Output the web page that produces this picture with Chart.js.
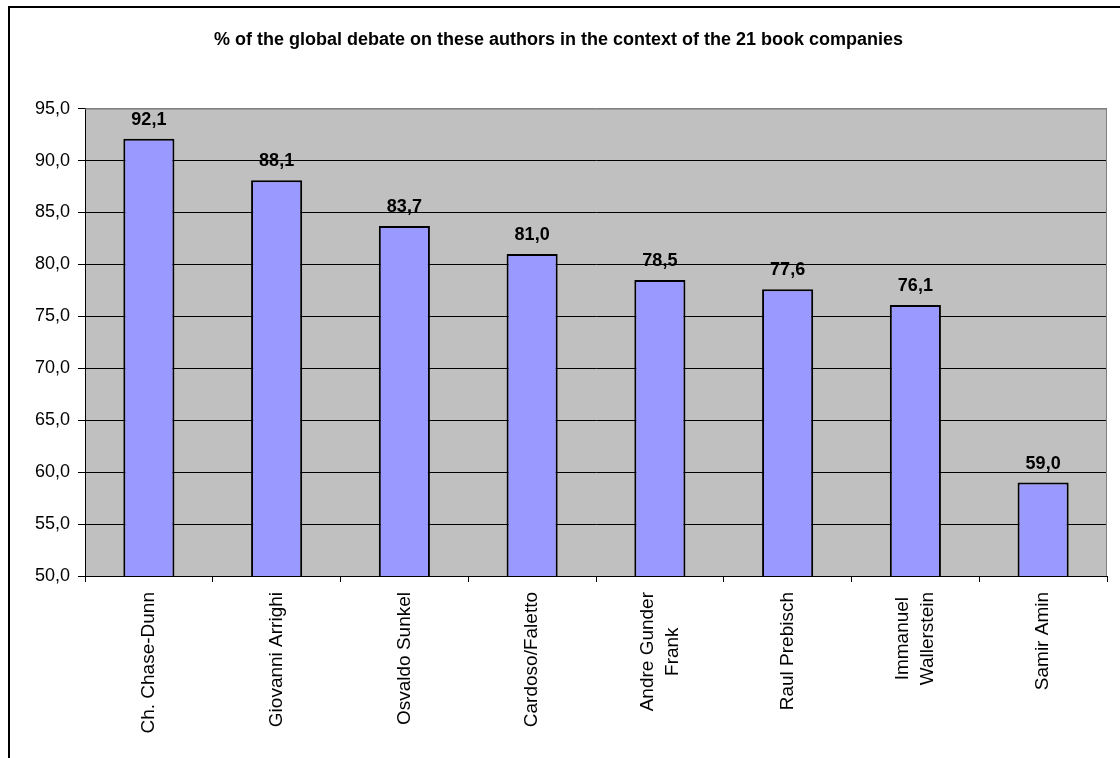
<!DOCTYPE html>
<html>
<head>
<meta charset="utf-8">
<title>Global debate on authors</title>
<script src="https://cdn.jsdelivr.net/npm/chart.js@4/dist/chart.umd.min.js"></script>
<style>
  html, body { margin: 0; padding: 0; background: #ffffff; }
  #chart { display: block; }
</style>
</head>
<body>
<canvas id="chart" width="1120" height="758"></canvas>
<script>
// Values
const AUTHORS = [
    ['Ch. Chase-Dunn'],
    ['Giovanni Arrighi'],
    ['Osvaldo Sunkel'],
    ['Cardoso/Faletto'],
    ['Andre Gunder', 'Frank'],
    ['Raul Prebisch'],
    ['Immanuel', 'Wallerstein'],
    ['Samir Amin']
];
const SHARE = [92.1, 88.1, 83.7, 81.0, 78.5, 77.6, 76.1, 59.0];
const Y_MIN = 50;
const Y_MAX = 95;
const Y_STEP = 5;
const TITLE = '% of the global debate on these authors in the context of the 21 book companies';

const FONT = 'Arial, "Liberation Sans", sans-serif';
const fmt = v => Number(v).toFixed(1).replace('.', ',');

// Grey plot area + outer frame
const frame = {
    id: 'frame',
    beforeDraw(chart) {
        const { ctx, chartArea: a } = chart;
        ctx.save();
        ctx.fillStyle = '#c0c0c0';
        ctx.fillRect(a.left, a.top, a.right - a.left, a.bottom - a.top);
        ctx.strokeStyle = '#000';
        ctx.lineWidth = 2;
        ctx.strokeRect(9, 7, 1300, 900);
        ctx.restore();
    },
    afterDraw(chart) {
        const { ctx, chartArea: a } = chart;
        ctx.save();
        ctx.strokeStyle = '#808080';
        ctx.lineWidth = 1;
        ctx.beginPath();
        ctx.moveTo(a.left, a.top + 0.5);
        ctx.lineTo(a.right - 0.5, a.top + 0.5);
        ctx.lineTo(a.right - 0.5, a.bottom);
        ctx.stroke();
        ctx.restore();
    }
};

// Bold values above each bar
const valueLabels = {
    id: 'valueLabels',
    afterDatasetsDraw(chart) {
        const { ctx } = chart;
        const meta = chart.getDatasetMeta(0);
        ctx.save();
        ctx.fillStyle = '#000';
        ctx.font = 'bold 18px ' + FONT;
        ctx.textAlign = 'center';
        ctx.textBaseline = 'alphabetic';
        meta.data.forEach((bar, i) => {
            ctx.fillText(fmt(SHARE[i]), bar.x, bar.y - 14);
        });
        ctx.restore();
    }
};

// Vertical category labels, lines centred inside each block
const authorLabels = {
    id: 'authorLabels',
    afterDraw(chart) {
        const { ctx } = chart;
        const xs = chart.scales.x;
        const top = xs.top + 16;
        const lh = 25;
        ctx.save();
        ctx.fillStyle = '#000';
        ctx.font = '19px ' + FONT;
        ctx.textAlign = 'center';
        ctx.textBaseline = 'middle';
        AUTHORS.forEach((lines, i) => {
            const w = Math.max(...lines.map(l => ctx.measureText(l).width));
            ctx.save();
            ctx.translate(xs.getPixelForTick(i), top);
            ctx.rotate(-Math.PI / 2);
            lines.forEach((l, j) => {
                ctx.fillText(l, -w / 2, (j - (lines.length - 1) / 2) * lh);
            });
            ctx.restore();
        });
        ctx.restore();
    }
};

new Chart(document.getElementById('chart'), {
    type: 'bar',
    data: {
        labels: AUTHORS,
        datasets: [{
            data: SHARE,
            backgroundColor: '#9999ff',
            borderColor: '#000000',
            borderWidth: 2,
            borderSkipped: false,
            categoryPercentage: 1,
            barPercentage: 0.4
        }]
    },
    options: {
        responsive: false,
        animation: false,
        layout: { padding: { left: 10, right: 13, top: 0, bottom: 0 } },
        plugins: {
            legend: { display: false },
            tooltip: { enabled: false },
            title: {
                display: true,
                text: TITLE,
                color: '#000',
                font: { family: FONT, size: 18, weight: 'bold' },
                padding: { top: 29, bottom: 58 }
            }
        },
        scales: {
            x: {
                grid: { drawOnChartArea: false, drawTicks: true, tickLength: 6, color: '#000', offset: true },
                border: { color: '#000', width: 1 },
                ticks: { display: false },
                afterFit: s => { s.height = 182; }
            },
            y: {
                min: Y_MIN,
                max: Y_MAX,
                grid: {
                    color: c => (c.tick && c.tick.value === Y_MAX) ? '#808080' : '#000',
                    tickColor: '#000',
                    tickLength: 7
                },
                border: { color: '#000', width: 1 },
                ticks: {
                    stepSize: Y_STEP,
                    color: '#000',
                    padding: 8,
                    font: { family: FONT, size: 18 },
                    callback: v => fmt(v)
                },
                afterFit: s => { s.width = 75; }
            }
        }
    },
    plugins: [frame, valueLabels, authorLabels]
});
</script>
</body>
</html>
